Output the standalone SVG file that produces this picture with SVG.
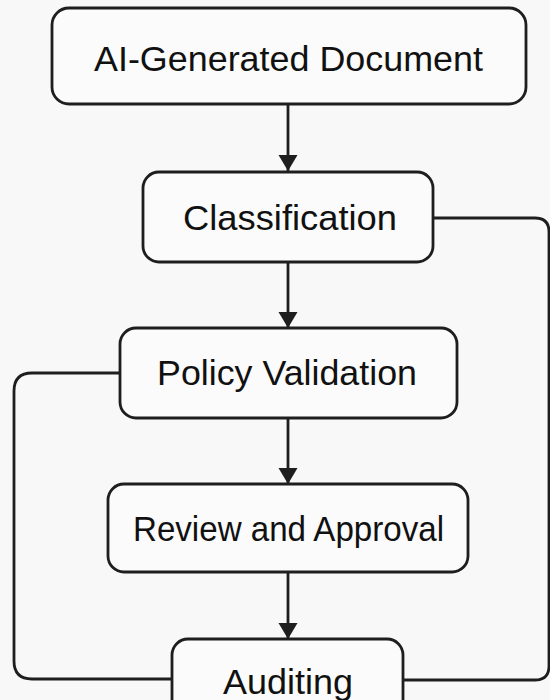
<svg xmlns="http://www.w3.org/2000/svg" width="550" height="700" viewBox="0 0 550 700">
<defs>
<marker id="ah" markerWidth="16" markerHeight="20" refX="16" refY="10" orient="auto" markerUnits="userSpaceOnUse">
<path d="M0,0.5 L16,10 L0,19.5 Z" fill="#1e1e1e"/>
</marker>
<style>
.box{fill:#fbfbfb;stroke:#1e1e1e;stroke-width:2.8}
.lbl{font-family:"Liberation Sans",Arial,sans-serif;font-size:35px;fill:#111;text-anchor:middle}
.edge{fill:none;stroke:#1e1e1e;stroke-width:2.8}
</style>
</defs>
<rect width="550" height="700" fill="#f8f8f8"/>
<g id="connectors">
<path class="edge" d="M288,104 V171" marker-end="url(#ah)"/>
<path class="edge" d="M288,262 V328" marker-end="url(#ah)"/>
<path class="edge" d="M288,418 V484" marker-end="url(#ah)"/>
<path class="edge" d="M288,572 V639" marker-end="url(#ah)"/>
<path class="edge" d="M433,218 H535 Q549,218 549,232 V666 Q549,680 535,680 H403"/>
<path class="edge" d="M120,373 H32 Q14,373 14,391 V661 Q14,679 32,679 H172"/>
</g>
<g id="n1"><rect class="box" x="52" y="8" width="474" height="96" rx="17"/><text class="lbl" x="288.5" y="71" textLength="389" lengthAdjust="spacingAndGlyphs">AI-Generated Document</text></g>
<g id="n2"><rect class="box" x="143" y="172" width="290" height="90" rx="16"/><text class="lbl" x="290" y="230" textLength="214" lengthAdjust="spacingAndGlyphs">Classification</text></g>
<g id="n3"><rect class="box" x="120" y="328" width="337" height="90" rx="16"/><text class="lbl" x="287" y="385" textLength="260" lengthAdjust="spacingAndGlyphs">Policy Validation</text></g>
<g id="n4"><rect class="box" x="108" y="484" width="360" height="88" rx="16"/><text class="lbl" x="288.5" y="541" textLength="311" lengthAdjust="spacingAndGlyphs">Review and Approval</text></g>
<g id="n5"><rect class="box" x="172" y="639" width="231" height="90" rx="16"/><text class="lbl" x="288" y="694" textLength="130" lengthAdjust="spacingAndGlyphs">Auditing</text></g>
</svg>
